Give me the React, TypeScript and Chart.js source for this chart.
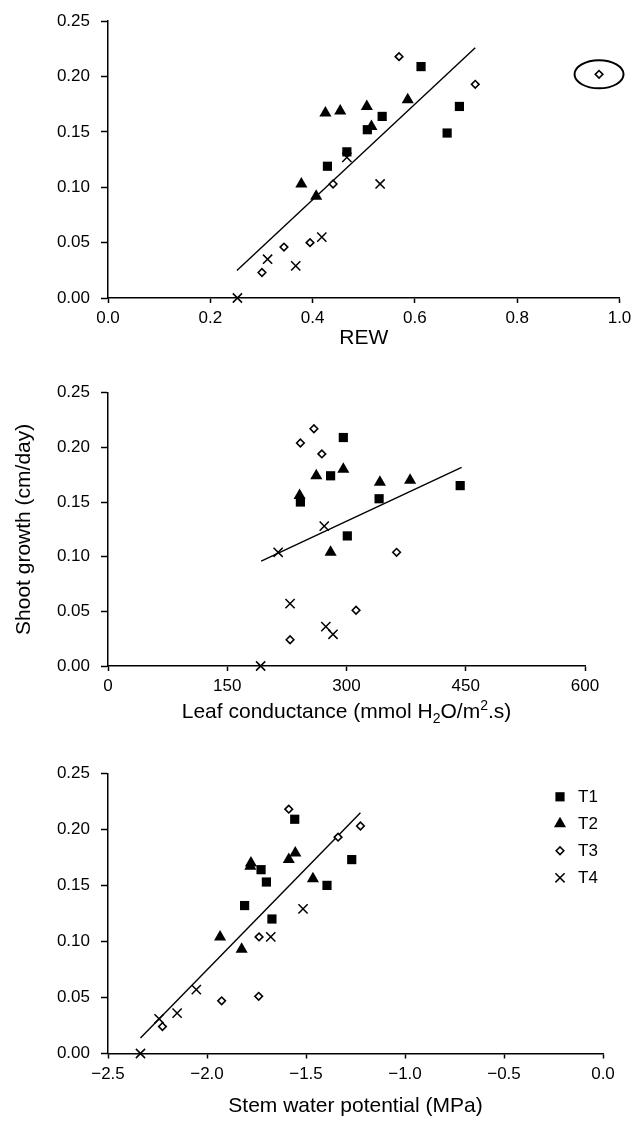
import React, { useEffect, useRef } from "react";
import { Chart, registerables } from "chart.js";
import { drawPoint } from "chart.js/helpers";

Chart.register(...registerables);

const FONT = '"Liberation Sans", Arial, Helvetica, sans-serif';

// ---------- data ----------
const SERIES = ["T1", "T2", "T3", "T4"];

const Y_TICKS = [0, 0.05, 0.1, 0.15, 0.2, 0.25];
const Y_TICK_LABELS = ["0.00", "0.05", "0.10", "0.15", "0.20", "0.25"];

// Panel 1: REW
const REW_TICKS = [0, 0.2, 0.4, 0.6, 0.8, 1.0];
const REW_TICK_LABELS = ["0.0", "0.2", "0.4", "0.6", "0.8", "1.0"];
const REW_T1 = [0.429, 0.467, 0.507, 0.536, 0.612, 0.663, 0.687];
const REW_T1_GROWTH = [0.119, 0.132, 0.152, 0.164, 0.209, 0.149, 0.173];
const REW_T2 = [0.378, 0.407, 0.425, 0.454, 0.506, 0.515, 0.586];
const REW_T2_GROWTH = [0.103, 0.092, 0.167, 0.169, 0.173, 0.155, 0.179];
const REW_T3 = [0.301, 0.344, 0.395, 0.44, 0.569, 0.718, 0.96];
const REW_T3_GROWTH = [0.023, 0.046, 0.05, 0.103, 0.218, 0.193, 0.202];
const REW_T4 = [0.253, 0.312, 0.367, 0.418, 0.467, 0.532];
const REW_T4_GROWTH = [0.0, 0.035, 0.029, 0.055, 0.127, 0.103];
const REW_FIT_X = [0.252, 0.718];
const REW_FIT_Y = [0.0248, 0.226];

// Panel 2: leaf conductance
const GS_TICKS = [0, 150, 300, 450, 600];
const GS_TICK_LABELS = ["0", "150", "300", "450", "600"];
const GS_T1 = [242, 280, 296, 301, 341, 443];
const GS_T1_GROWTH = [0.15, 0.174, 0.209, 0.119, 0.153, 0.165];
const GS_T2 = [241, 262, 280, 296, 342, 380];
const GS_T2_GROWTH = [0.156, 0.174, 0.104, 0.18, 0.168, 0.17];
const GS_T3 = [229, 242, 259, 269, 312, 363];
const GS_T3_GROWTH = [0.024, 0.204, 0.217, 0.194, 0.051, 0.104];
const GS_T4 = [192, 214, 229, 272, 274, 283];
const GS_T4_GROWTH = [0.0, 0.104, 0.057, 0.128, 0.036, 0.029];
const GS_FIT_X = [192.7, 444.8];
const GS_FIT_Y = [0.0959, 0.1817];

// Panel 3: stem water potential
const SWP_TICKS = [-2.5, -2.0, -1.5, -1.0, -0.5, 0.0];
const SWP_TICK_LABELS = ["\u22122.5", "\u22122.0", "\u22121.5", "\u22121.0", "\u22120.5", "0.0"];
const SWP_T1 = [-1.81, -1.727, -1.7, -1.672, -1.557, -1.394, -1.269];
const SWP_T1_GROWTH = [0.132, 0.164, 0.153, 0.12, 0.209, 0.15, 0.173];
const SWP_T2 = [-1.934, -1.825, -1.781, -1.778, -1.587, -1.554, -1.465];
const SWP_T2_GROWTH = [0.104, 0.093, 0.167, 0.17, 0.173, 0.179, 0.156];
const SWP_T3 = [-2.225, -1.926, -1.739, -1.737, -1.587, -1.338, -1.225];
const SWP_T3_GROWTH = [0.024, 0.047, 0.051, 0.104, 0.218, 0.193, 0.203];
const SWP_T4 = [-2.336, -2.242, -2.151, -2.054, -1.678, -1.515];
const SWP_T4_GROWTH = [0.0, 0.031, 0.036, 0.057, 0.104, 0.129];
const SWP_FIT_X = [-2.336, -1.225];
const SWP_FIT_Y = [0.0138, 0.2148];

// ---------- styles ----------
const MARKERS = [
  { pointStyle: "rect", radius: 6.5, bg: "#000", border: "#000", bw: 0 },
  { pointStyle: "triangle", radius: 7, bg: "#000", border: "#000", bw: 0 },
  { pointStyle: "rectRot", radius: 3.8, bg: "#fff", border: "#000", bw: 1.6 },
  { pointStyle: "crossRot", radius: 6.5, bg: "#000", border: "#000", bw: 1.5 },
];

const TICK_SIZE = 17;
const TITLE_SIZE = 21;

type Spec = {
  top: number;
  height: number;
  areaTop: number;
  areaBottom: number;
  areaRight: number;
  padBottom: number;
  xTickPad: number;
  xMin: number;
  xMax: number;
  xTicks: number[];
  xLabels: string[];
  xTitle: string | null;
  xTitleParts?: { t: string; s: number }[];
  yTitle: string | null;
  series: { x: number[]; y: number[] }[];
  fitX: number[];
  fitY: number[];
  legend?: boolean;
  circleOutlier?: boolean;
};

const PANELS: Spec[] = [
  {
    top: 0,
    height: 360,
    areaTop: 17.3,
    areaBottom: 298,
    areaRight: 619.5,
    padBottom: 9,
    xTickPad: 5.3,
    xMin: 0,
    xMax: 1,
    xTicks: REW_TICKS,
    xLabels: REW_TICK_LABELS,
    xTitle: "REW",
    yTitle: null,
    series: [
      { x: REW_T1, y: REW_T1_GROWTH },
      { x: REW_T2, y: REW_T2_GROWTH },
      { x: REW_T3, y: REW_T3_GROWTH },
      { x: REW_T4, y: REW_T4_GROWTH },
    ],
    fitX: REW_FIT_X,
    fitY: REW_FIT_Y,
    circleOutlier: true,
  },
  {
    top: 360,
    height: 380,
    areaTop: 32.7,
    areaBottom: 306,
    areaRight: 585,
    padBottom: 17,
    xTickPad: 4.8,
    xMin: 0,
    xMax: 600,
    xTicks: GS_TICKS,
    xLabels: GS_TICK_LABELS,
    xTitle: null,
    xTitleParts: [
      { t: "Leaf conductance (mmol H", s: 0 },
      { t: "2", s: -1 },
      { t: "O/m", s: 0 },
      { t: "2", s: 1 },
      { t: ".s)", s: 0 },
    ],
    yTitle: "Shoot growth (cm/day)",
    series: [
      { x: GS_T1, y: GS_T1_GROWTH },
      { x: GS_T2, y: GS_T2_GROWTH },
      { x: GS_T3, y: GS_T3_GROWTH },
      { x: GS_T4, y: GS_T4_GROWTH },
    ],
    fitX: GS_FIT_X,
    fitY: GS_FIT_Y,
  },
  {
    top: 740,
    height: 382,
    areaTop: 33.3,
    areaBottom: 313.5,
    areaRight: 603,
    padBottom: 3,
    xTickPad: 5.3,
    xMin: -2.5,
    xMax: 0,
    xTicks: SWP_TICKS,
    xLabels: SWP_TICK_LABELS,
    xTitle: "Stem water potential (MPa)",
    yTitle: null,
    series: [
      { x: SWP_T1, y: SWP_T1_GROWTH },
      { x: SWP_T2, y: SWP_T2_GROWTH },
      { x: SWP_T3, y: SWP_T3_GROWTH },
      { x: SWP_T4, y: SWP_T4_GROWTH },
    ],
    fitX: SWP_FIT_X,
    fitY: SWP_FIT_Y,
    legend: true,
  },
];

const W = 644;

function buildConfig(spec: Spec): any {
  const datasets: any[] = spec.series.map((s, i) => ({
    label: SERIES[i],
    data: s.x.map((x, j) => ({ x, y: s.y[j] })),
    pointStyle: MARKERS[i].pointStyle,
    pointRadius: MARKERS[i].radius,
    pointHoverRadius: MARKERS[i].radius,
    pointBackgroundColor: MARKERS[i].bg,
    pointBorderColor: MARKERS[i].border,
    pointBorderWidth: MARKERS[i].bw,
    showLine: false,
    clip: false,
    order: 4 - i,
  }));
  datasets.push({
    label: "fit",
    data: spec.fitX.map((x, j) => ({ x, y: spec.fitY[j] })),
    showLine: true,
    borderColor: "#000",
    borderWidth: 1.4,
    pointRadius: 0,
    clip: false,
    order: 10,
  });

  const plugins: any[] = [];

  if (spec.xTitleParts) {
    const parts = spec.xTitleParts;
    plugins.push({
      id: "subsupTitle",
      afterDraw(chart: any) {
        const ctx = chart.ctx;
        const { left, right } = chart.chartArea;
        const main = `${TITLE_SIZE}px ${FONT}`;
        const small = `${Math.round(TITLE_SIZE * 0.68)}px ${FONT}`;
        ctx.save();
        let total = 0;
        parts.forEach((p) => {
          ctx.font = p.s === 0 ? main : small;
          total += ctx.measureText(p.t).width;
        });
        const baseY = spec.height - spec.padBottom - TITLE_SIZE * 0.6 + TITLE_SIZE * 0.36;
        let x = (left + right) / 2 - total / 2;
        ctx.fillStyle = "#000";
        ctx.textAlign = "left";
        ctx.textBaseline = "alphabetic";
        parts.forEach((p) => {
          ctx.font = p.s === 0 ? main : small;
          const dy = p.s === 0 ? 0 : p.s < 0 ? TITLE_SIZE * 0.25 : -TITLE_SIZE * 0.38;
          ctx.fillText(p.t, x, baseY + dy);
          x += ctx.measureText(p.t).width;
        });
        ctx.restore();
      },
    });
  }

  if (spec.legend) {
    plugins.push({
      id: "insetLegend",
      afterDraw(chart: any) {
        const ctx = chart.ctx;
        const { right, top } = chart.chartArea;
        SERIES.forEach((name, i) => {
          const y = top + 23.5 + i * 27;
          const m = MARKERS[i];
          ctx.save();
          ctx.fillStyle = m.bg;
          ctx.strokeStyle = m.border;
          ctx.lineWidth = m.bw;
          drawPoint(ctx, { pointStyle: m.pointStyle, radius: m.radius, rotation: 0, borderWidth: m.bw } as any, right - 43, y);
          ctx.restore();
          ctx.save();
          ctx.fillStyle = "#000";
          ctx.font = `${TICK_SIZE}px ${FONT}`;
          ctx.textAlign = "left";
          ctx.textBaseline = "middle";
          ctx.fillText(name, right - 25, y + 1);
          ctx.restore();
        });
      },
    });
  }

  if (spec.circleOutlier) {
    plugins.push({
      id: "circleOutlier",
      afterDatasetsDraw(chart: any) {
        const s = spec.series[2];
        let k = 0;
        s.x.forEach((v, j) => {
          if (v > s.x[k]) k = j;
        });
        const px = chart.scales.x.getPixelForValue(s.x[k]);
        const py = chart.scales.y.getPixelForValue(s.y[k]);
        const ctx = chart.ctx;
        ctx.save();
        ctx.strokeStyle = "#000";
        ctx.lineWidth = 2;
        ctx.beginPath();
        ctx.ellipse(px, py, 24.5, 14, 0, 0, Math.PI * 2);
        ctx.stroke();
        ctx.restore();
      },
    });
  }

  const xHeight = spec.height - spec.padBottom - spec.areaBottom;

  return {
    type: "scatter",
    data: { datasets },
    plugins,
    options: {
      responsive: false,
      animation: false,
      devicePixelRatio: 1,
      events: [],
      layout: {
        padding: { top: spec.areaTop, right: W - spec.areaRight, bottom: spec.padBottom, left: 0 },
      },
      plugins: {
        legend: { display: false },
        tooltip: { enabled: false },
        title: { display: false },
      },
      scales: {
        x: {
          type: "linear",
          min: spec.xMin,
          max: spec.xMax,
          afterBuildTicks: (sc: any) => {
            sc.ticks = spec.xTicks.map((v) => ({ value: v }));
          },
          afterFit: (sc: any) => {
            sc.height = xHeight;
          },
          ticks: {
            autoSkip: false,
            maxRotation: 0,
            minRotation: 0,
            padding: spec.xTickPad,
            color: "#000",
            font: { family: FONT, size: TICK_SIZE },
            callback: (_v: any, i: number) => spec.xLabels[i],
          },
          grid: {
            drawOnChartArea: false,
            drawTicks: true,
            tickLength: 5,
            tickWidth: 1.5,
            tickColor: "#000",
            color: "#000",
          },
          border: { display: true, color: "#000", width: 1.5 },
          title: {
            display: !!spec.xTitle,
            text: spec.xTitle || "",
            color: "#000",
            font: { family: FONT, size: TITLE_SIZE },
            padding: 0,
          },
        },
        y: {
          type: "linear",
          min: 0,
          max: 0.25,
          afterBuildTicks: (sc: any) => {
            sc.ticks = Y_TICKS.map((v) => ({ value: v }));
          },
          afterFit: (sc: any) => {
            sc.width = 108;
          },
          ticks: {
            autoSkip: false,
            padding: 11,
            color: "#000",
            font: { family: FONT, size: TICK_SIZE },
            callback: (_v: any, i: number) => Y_TICK_LABELS[i],
          },
          grid: {
            drawOnChartArea: false,
            drawTicks: true,
            tickLength: 7,
            tickWidth: 1.5,
            tickColor: "#000",
            color: "#000",
          },
          border: { display: true, color: "#000", width: 1.5 },
          title: {
            display: !!spec.yTitle,
            text: spec.yTitle || "",
            color: "#000",
            font: { family: FONT, size: TITLE_SIZE },
            padding: { top: 12, bottom: 0 },
          },
        },
      },
    },
  };
}

function Panel({ spec }: { spec: Spec }) {
  const ref = useRef<HTMLCanvasElement | null>(null);
  useEffect(() => {
    if (!ref.current) return;
    const chart = new Chart(ref.current, buildConfig(spec));
    return () => chart.destroy();
  }, [spec]);
  return (
    <canvas
      ref={ref}
      width={W}
      height={spec.height}
      style={{ position: "absolute", left: 0, top: spec.top, width: W, height: spec.height, display: "block" }}
    />
  );
}

export default function App() {
  return (
    <div style={{ position: "absolute", left: 0, top: 0, width: W, height: 1122, background: "#fff", overflow: "hidden" }}>
      {PANELS.map((p, i) => (
        <Panel key={i} spec={p} />
      ))}
    </div>
  );
}
